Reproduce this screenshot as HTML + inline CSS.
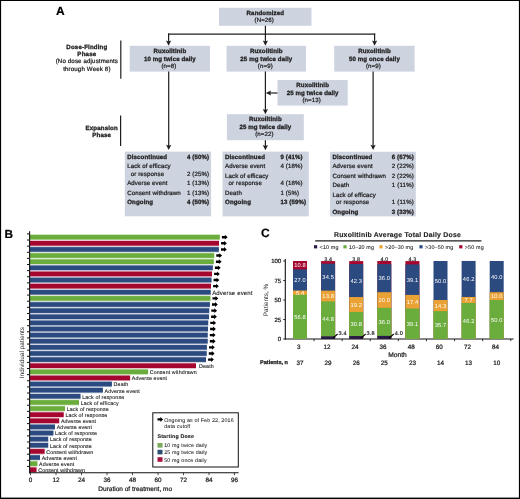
<!DOCTYPE html>
<html><head><meta charset="utf-8"><style>
html,body{margin:0;padding:0;background:#fff;}
body{width:520px;height:499px;overflow:hidden;}
svg{display:block;font-family:"Liberation Sans", sans-serif;will-change:transform;text-rendering:geometricPrecision;}
</style></head><body>
<svg width="520" height="499" viewBox="0 0 520 499">
<g>
<rect x="0" y="0" width="520" height="499" fill="#fff"/>
<text x="55.90" y="15.00" font-size="12.0" font-weight="bold" text-anchor="start" fill="#000" stroke="#000" stroke-width="0.2" >A</text>
<rect x="219.00" y="7.80" width="92.50" height="18.00" fill="#cdd3df" />
<text x="265.30" y="15.10" font-size="6.111" font-weight="bold" text-anchor="middle" fill="#1f1f1f" stroke="#1f1f1f" stroke-width="0.3" textLength="37.45" lengthAdjust="spacing" >Randomized</text>
<text x="264.20" y="22.30" font-size="6.111" text-anchor="middle" fill="#1f1f1f" stroke="#1f1f1f" stroke-width="0.24" textLength="19.43" lengthAdjust="spacing" >(N=26)</text>
<line x1="265.40" y1="25.80" x2="265.40" y2="41.80" stroke="#1e1e1e" stroke-width="1.2"/>
<line x1="168.00" y1="34.10" x2="375.20" y2="34.10" stroke="#1e1e1e" stroke-width="1.3"/>
<line x1="168.60" y1="33.50" x2="168.60" y2="41.80" stroke="#1e1e1e" stroke-width="1.2"/>
<line x1="374.60" y1="33.50" x2="374.60" y2="41.80" stroke="#1e1e1e" stroke-width="1.2"/>
<path d="M166.00,40.50 L168.60,41.50 L171.20,40.50 L168.60,45.80 Z" fill="#1e1e1e"/>
<path d="M262.80,40.50 L265.40,41.50 L268.00,40.50 L265.40,45.80 Z" fill="#1e1e1e"/>
<path d="M372.00,40.50 L374.60,41.50 L377.20,40.50 L374.60,45.80 Z" fill="#1e1e1e"/>
<rect x="129.70" y="45.80" width="80.30" height="25.80" fill="#cdd3df" />
<text x="169.85" y="52.80" font-size="6.111" font-weight="bold" text-anchor="middle" fill="#1f1f1f" stroke="#1f1f1f" stroke-width="0.3" textLength="32.55" lengthAdjust="spacing" >Ruxolitinib</text>
<text x="169.85" y="60.50" font-size="6.111" font-weight="bold" text-anchor="middle" fill="#1f1f1f" stroke="#1f1f1f" stroke-width="0.3" textLength="51.82" lengthAdjust="spacing" >10 mg twice daily</text>
<text x="168.85" y="67.80" font-size="6.111" text-anchor="middle" fill="#1f1f1f" stroke="#1f1f1f" stroke-width="0.24" textLength="14.88" lengthAdjust="spacing" >(n=8)</text>
<rect x="226.50" y="45.80" width="79.50" height="25.80" fill="#cdd3df" />
<text x="266.25" y="52.80" font-size="6.111" font-weight="bold" text-anchor="middle" fill="#1f1f1f" stroke="#1f1f1f" stroke-width="0.3" textLength="32.55" lengthAdjust="spacing" >Ruxolitinib</text>
<text x="266.25" y="60.50" font-size="6.111" font-weight="bold" text-anchor="middle" fill="#1f1f1f" stroke="#1f1f1f" stroke-width="0.3" textLength="51.82" lengthAdjust="spacing" >25 mg twice daily</text>
<text x="265.25" y="67.80" font-size="6.111" text-anchor="middle" fill="#1f1f1f" stroke="#1f1f1f" stroke-width="0.24" textLength="14.88" lengthAdjust="spacing" >(n=9)</text>
<rect x="334.20" y="45.80" width="80.40" height="25.80" fill="#cdd3df" />
<text x="374.40" y="52.80" font-size="6.111" font-weight="bold" text-anchor="middle" fill="#1f1f1f" stroke="#1f1f1f" stroke-width="0.3" textLength="32.55" lengthAdjust="spacing" >Ruxolitinib</text>
<text x="374.40" y="60.50" font-size="6.111" font-weight="bold" text-anchor="middle" fill="#1f1f1f" stroke="#1f1f1f" stroke-width="0.3" textLength="50.77" lengthAdjust="spacing" >50 mg once daily</text>
<text x="373.40" y="67.80" font-size="6.111" text-anchor="middle" fill="#1f1f1f" stroke="#1f1f1f" stroke-width="0.24" textLength="14.88" lengthAdjust="spacing" >(n=9)</text>
<rect x="277.50" y="80.00" width="70.20" height="25.60" fill="#cdd3df" />
<text x="312.60" y="87.30" font-size="6.111" font-weight="bold" text-anchor="middle" fill="#1f1f1f" stroke="#1f1f1f" stroke-width="0.3" textLength="32.55" lengthAdjust="spacing" >Ruxolitinib</text>
<text x="312.60" y="95.00" font-size="6.111" font-weight="bold" text-anchor="middle" fill="#1f1f1f" stroke="#1f1f1f" stroke-width="0.3" textLength="51.82" lengthAdjust="spacing" >25 mg twice daily</text>
<text x="311.60" y="102.30" font-size="6.111" text-anchor="middle" fill="#1f1f1f" stroke="#1f1f1f" stroke-width="0.24" textLength="18.39" lengthAdjust="spacing" >(n=13)</text>
<rect x="226.90" y="114.20" width="76.90" height="26.00" fill="#cdd3df" />
<text x="265.35" y="121.20" font-size="6.111" font-weight="bold" text-anchor="middle" fill="#1f1f1f" stroke="#1f1f1f" stroke-width="0.3" textLength="32.55" lengthAdjust="spacing" >Ruxolitinib</text>
<text x="265.35" y="128.90" font-size="6.111" font-weight="bold" text-anchor="middle" fill="#1f1f1f" stroke="#1f1f1f" stroke-width="0.3" textLength="51.82" lengthAdjust="spacing" >25 mg twice daily</text>
<text x="264.35" y="136.20" font-size="6.111" text-anchor="middle" fill="#1f1f1f" stroke="#1f1f1f" stroke-width="0.24" textLength="18.39" lengthAdjust="spacing" >(n=22)</text>
<line x1="168.70" y1="71.60" x2="168.70" y2="146.00" stroke="#1e1e1e" stroke-width="1.2"/>
<path d="M166.10,144.70 L168.70,145.70 L171.30,144.70 L168.70,150.00 Z" fill="#1e1e1e"/>
<line x1="265.40" y1="71.60" x2="265.40" y2="110.20" stroke="#1e1e1e" stroke-width="1.2"/>
<path d="M262.80,108.90 L265.40,109.90 L268.00,108.90 L265.40,114.20 Z" fill="#1e1e1e"/>
<line x1="373.10" y1="71.60" x2="373.10" y2="146.00" stroke="#1e1e1e" stroke-width="1.2"/>
<path d="M370.50,144.70 L373.10,145.70 L375.70,144.70 L373.10,150.00 Z" fill="#1e1e1e"/>
<line x1="277.50" y1="93.00" x2="269.50" y2="93.00" stroke="#1e1e1e" stroke-width="1.2"/>
<path d="M271.10,90.40 L270.10,93.00 L271.10,95.60 L265.80,93.00 Z" fill="#1e1e1e"/>
<line x1="265.40" y1="140.20" x2="265.40" y2="146.00" stroke="#1e1e1e" stroke-width="1.2"/>
<path d="M262.80,144.90 L265.40,145.90 L268.00,144.90 L265.40,150.20 Z" fill="#1e1e1e"/>
<line x1="120.80" y1="40.40" x2="120.80" y2="78.80" stroke="#1e1e1e" stroke-width="1.2"/>
<text x="86.80" y="48.50" font-size="6.144" font-weight="bold" text-anchor="middle" fill="#1f1f1f" stroke="#1f1f1f" stroke-width="0.3" textLength="40.88" lengthAdjust="spacing" >Dose-Finding</text>
<text x="86.80" y="55.80" font-size="6.144" font-weight="bold" text-anchor="middle" fill="#1f1f1f" stroke="#1f1f1f" stroke-width="0.3" textLength="18.86" lengthAdjust="spacing" >Phase</text>
<text x="86.80" y="63.30" font-size="6.144" text-anchor="middle" fill="#1f1f1f" stroke="#1f1f1f" stroke-width="0.24" textLength="62.25" lengthAdjust="spacing" >(No dose adjustments</text>
<text x="86.80" y="70.60" font-size="6.144" text-anchor="middle" fill="#1f1f1f" stroke="#1f1f1f" stroke-width="0.24" textLength="47.31" lengthAdjust="spacing" >through Week 8)</text>
<line x1="120.60" y1="115.40" x2="120.60" y2="146.00" stroke="#1e1e1e" stroke-width="1.2"/>
<text x="101.60" y="129.80" font-size="6.144" font-weight="bold" text-anchor="middle" fill="#1f1f1f" stroke="#1f1f1f" stroke-width="0.3" textLength="32.36" lengthAdjust="spacing" >Expansion</text>
<text x="101.60" y="136.80" font-size="6.144" font-weight="bold" text-anchor="middle" fill="#1f1f1f" stroke="#1f1f1f" stroke-width="0.3" textLength="18.86" lengthAdjust="spacing" >Phase</text>
<rect x="124.80" y="151.60" width="86.30" height="64.70" fill="#cdd3df" />
<text x="127.20" y="159.10" font-size="6.111" font-weight="bold" text-anchor="start" fill="#1f1f1f" stroke="#1f1f1f" stroke-width="0.3" textLength="39.90" lengthAdjust="spacing" >Discontinued</text>
<text x="187.00" y="159.10" font-size="6.111" font-weight="bold" text-anchor="start" fill="#1f1f1f" stroke="#1f1f1f" stroke-width="0.3" textLength="22.06" lengthAdjust="spacing" >4 (50%)</text>
<text x="127.20" y="168.40" font-size="6.111" text-anchor="start" fill="#1f1f1f" stroke="#1f1f1f" stroke-width="0.24" textLength="43.42" lengthAdjust="spacing" >Lack of efficacy</text>
<text x="130.80" y="175.90" font-size="6.111" text-anchor="start" fill="#1f1f1f" stroke="#1f1f1f" stroke-width="0.24" textLength="33.27" lengthAdjust="spacing" >or response</text>
<text x="187.00" y="175.90" font-size="6.111" text-anchor="start" fill="#1f1f1f" stroke="#1f1f1f" stroke-width="0.24" textLength="22.06" lengthAdjust="spacing" >2 (25%)</text>
<text x="127.20" y="185.30" font-size="6.111" text-anchor="start" fill="#1f1f1f" stroke="#1f1f1f" stroke-width="0.24" textLength="40.27" lengthAdjust="spacing" >Adverse event</text>
<text x="187.00" y="185.30" font-size="6.111" text-anchor="start" fill="#1f1f1f" stroke="#1f1f1f" stroke-width="0.24" textLength="22.06" lengthAdjust="spacing" >1 (13%)</text>
<text x="127.20" y="194.80" font-size="6.111" text-anchor="start" fill="#1f1f1f" stroke="#1f1f1f" stroke-width="0.24" textLength="53.58" lengthAdjust="spacing" >Consent withdrawn</text>
<text x="187.00" y="194.80" font-size="6.111" text-anchor="start" fill="#1f1f1f" stroke="#1f1f1f" stroke-width="0.24" textLength="22.06" lengthAdjust="spacing" >1 (13%)</text>
<text x="127.20" y="204.30" font-size="6.111" font-weight="bold" text-anchor="start" fill="#1f1f1f" stroke="#1f1f1f" stroke-width="0.3" textLength="25.89" lengthAdjust="spacing" >Ongoing</text>
<text x="187.00" y="204.30" font-size="6.111" font-weight="bold" text-anchor="start" fill="#1f1f1f" stroke="#1f1f1f" stroke-width="0.3" textLength="22.06" lengthAdjust="spacing" >4 (50%)</text>
<rect x="222.60" y="151.60" width="86.20" height="64.80" fill="#cdd3df" />
<text x="225.00" y="159.10" font-size="6.111" font-weight="bold" text-anchor="start" fill="#1f1f1f" stroke="#1f1f1f" stroke-width="0.3" textLength="39.90" lengthAdjust="spacing" >Discontinued</text>
<text x="280.50" y="159.10" font-size="6.111" font-weight="bold" text-anchor="start" fill="#1f1f1f" stroke="#1f1f1f" stroke-width="0.3" textLength="22.06" lengthAdjust="spacing" >9 (41%)</text>
<text x="225.00" y="168.40" font-size="6.111" text-anchor="start" fill="#1f1f1f" stroke="#1f1f1f" stroke-width="0.24" textLength="40.27" lengthAdjust="spacing" >Adverse event</text>
<text x="280.50" y="168.40" font-size="6.111" text-anchor="start" fill="#1f1f1f" stroke="#1f1f1f" stroke-width="0.24" textLength="22.06" lengthAdjust="spacing" >4 (18%)</text>
<text x="225.00" y="177.80" font-size="6.111" text-anchor="start" fill="#1f1f1f" stroke="#1f1f1f" stroke-width="0.24" textLength="43.42" lengthAdjust="spacing" >Lack of efficacy</text>
<text x="228.60" y="185.30" font-size="6.111" text-anchor="start" fill="#1f1f1f" stroke="#1f1f1f" stroke-width="0.24" textLength="33.27" lengthAdjust="spacing" >or response</text>
<text x="280.50" y="185.30" font-size="6.111" text-anchor="start" fill="#1f1f1f" stroke="#1f1f1f" stroke-width="0.24" textLength="22.06" lengthAdjust="spacing" >4 (18%)</text>
<text x="225.00" y="194.80" font-size="6.111" text-anchor="start" fill="#1f1f1f" stroke="#1f1f1f" stroke-width="0.24" textLength="16.81" lengthAdjust="spacing" >Death</text>
<text x="280.50" y="194.80" font-size="6.111" text-anchor="start" fill="#1f1f1f" stroke="#1f1f1f" stroke-width="0.24" textLength="18.56" lengthAdjust="spacing" >1 (5%)</text>
<text x="225.00" y="204.30" font-size="6.111" font-weight="bold" text-anchor="start" fill="#1f1f1f" stroke="#1f1f1f" stroke-width="0.3" textLength="25.89" lengthAdjust="spacing" >Ongoing</text>
<text x="280.50" y="204.30" font-size="6.111" font-weight="bold" text-anchor="start" fill="#1f1f1f" stroke="#1f1f1f" stroke-width="0.3" textLength="25.56" lengthAdjust="spacing" >13 (59%)</text>
<rect x="330.00" y="151.80" width="85.80" height="64.60" fill="#cdd3df" />
<text x="332.40" y="159.10" font-size="6.111" font-weight="bold" text-anchor="start" fill="#1f1f1f" stroke="#1f1f1f" stroke-width="0.3" textLength="39.90" lengthAdjust="spacing" >Discontinued</text>
<text x="391.80" y="159.10" font-size="6.111" font-weight="bold" text-anchor="start" fill="#1f1f1f" stroke="#1f1f1f" stroke-width="0.3" textLength="22.06" lengthAdjust="spacing" >6 (67%)</text>
<text x="332.40" y="168.40" font-size="6.111" text-anchor="start" fill="#1f1f1f" stroke="#1f1f1f" stroke-width="0.24" textLength="40.27" lengthAdjust="spacing" >Adverse event</text>
<text x="391.80" y="168.40" font-size="6.111" text-anchor="start" fill="#1f1f1f" stroke="#1f1f1f" stroke-width="0.24" textLength="22.06" lengthAdjust="spacing" >2 (22%)</text>
<text x="332.40" y="177.70" font-size="6.111" text-anchor="start" fill="#1f1f1f" stroke="#1f1f1f" stroke-width="0.24" textLength="53.58" lengthAdjust="spacing" >Consent withdrawn</text>
<text x="391.80" y="177.70" font-size="6.111" text-anchor="start" fill="#1f1f1f" stroke="#1f1f1f" stroke-width="0.24" textLength="22.06" lengthAdjust="spacing" >2 (22%)</text>
<text x="332.40" y="187.10" font-size="6.111" text-anchor="start" fill="#1f1f1f" stroke="#1f1f1f" stroke-width="0.24" textLength="16.81" lengthAdjust="spacing" >Death</text>
<text x="391.80" y="187.10" font-size="6.111" text-anchor="start" fill="#1f1f1f" stroke="#1f1f1f" stroke-width="0.24" textLength="22.06" lengthAdjust="spacing" >1 (11%)</text>
<text x="332.40" y="196.50" font-size="6.111" text-anchor="start" fill="#1f1f1f" stroke="#1f1f1f" stroke-width="0.24" textLength="43.42" lengthAdjust="spacing" >Lack of efficacy</text>
<text x="336.00" y="204.10" font-size="6.111" text-anchor="start" fill="#1f1f1f" stroke="#1f1f1f" stroke-width="0.24" textLength="33.27" lengthAdjust="spacing" >or response</text>
<text x="391.80" y="204.10" font-size="6.111" text-anchor="start" fill="#1f1f1f" stroke="#1f1f1f" stroke-width="0.24" textLength="22.06" lengthAdjust="spacing" >1 (11%)</text>
<text x="332.40" y="213.50" font-size="6.111" font-weight="bold" text-anchor="start" fill="#1f1f1f" stroke="#1f1f1f" stroke-width="0.3" textLength="25.89" lengthAdjust="spacing" >Ongoing</text>
<text x="391.80" y="213.50" font-size="6.111" font-weight="bold" text-anchor="start" fill="#1f1f1f" stroke="#1f1f1f" stroke-width="0.3" textLength="22.06" lengthAdjust="spacing" >3 (33%)</text>
<text x="4.40" y="238.30" font-size="11.8" font-weight="bold" text-anchor="start" fill="#000" stroke="#000" stroke-width="0.2" >B</text>
<rect x="30.00" y="234.10" width="189.80" height="6.20" fill="#d5e8c8" />
<rect x="30.00" y="240.22" width="189.00" height="6.20" fill="#e6b9c5" />
<rect x="30.00" y="246.34" width="188.90" height="6.20" fill="#c4ccdb" />
<rect x="30.00" y="252.46" width="184.20" height="6.20" fill="#d5e8c8" />
<rect x="30.00" y="258.58" width="183.80" height="6.20" fill="#d5e8c8" />
<rect x="30.00" y="264.70" width="182.80" height="6.20" fill="#c4ccdb" />
<rect x="30.00" y="270.82" width="182.00" height="6.20" fill="#e6b9c5" />
<rect x="30.00" y="276.94" width="181.50" height="6.20" fill="#c4ccdb" />
<rect x="30.00" y="283.06" width="181.00" height="6.20" fill="#e6b9c5" />
<rect x="30.00" y="289.18" width="180.70" height="6.20" fill="#c4ccdb" />
<rect x="30.00" y="295.30" width="180.40" height="6.20" fill="#d5e8c8" />
<rect x="30.00" y="301.42" width="179.90" height="6.20" fill="#c4ccdb" />
<rect x="30.00" y="307.54" width="179.20" height="6.20" fill="#c4ccdb" />
<rect x="30.00" y="313.66" width="179.00" height="6.20" fill="#c4ccdb" />
<rect x="30.00" y="319.78" width="178.20" height="6.20" fill="#c4ccdb" />
<rect x="30.00" y="325.90" width="178.00" height="6.20" fill="#c4ccdb" />
<rect x="30.00" y="332.02" width="177.70" height="6.20" fill="#c4ccdb" />
<rect x="30.00" y="338.14" width="177.70" height="6.20" fill="#c4ccdb" />
<rect x="30.00" y="344.26" width="176.90" height="6.20" fill="#c4ccdb" />
<rect x="30.00" y="350.38" width="176.70" height="6.20" fill="#c4ccdb" />
<rect x="30.00" y="356.50" width="176.00" height="6.20" fill="#c4ccdb" />
<rect x="30.00" y="362.62" width="166.00" height="6.20" fill="#e6b9c5" />
<rect x="30.00" y="368.74" width="118.10" height="6.20" fill="#d5e8c8" />
<rect x="30.00" y="374.86" width="100.10" height="6.20" fill="#e6b9c5" />
<rect x="30.00" y="380.98" width="81.90" height="6.20" fill="#c4ccdb" />
<rect x="30.00" y="387.10" width="72.90" height="6.20" fill="#c4ccdb" />
<rect x="30.00" y="393.22" width="50.50" height="6.20" fill="#c4ccdb" />
<rect x="30.00" y="399.34" width="49.00" height="6.20" fill="#d5e8c8" />
<rect x="30.00" y="405.46" width="35.00" height="6.20" fill="#d5e8c8" />
<rect x="30.00" y="411.58" width="33.70" height="6.20" fill="#e6b9c5" />
<rect x="30.00" y="417.70" width="29.20" height="6.20" fill="#e6b9c5" />
<rect x="30.00" y="423.82" width="25.00" height="6.20" fill="#c4ccdb" />
<rect x="30.00" y="429.94" width="23.40" height="6.20" fill="#c4ccdb" />
<rect x="30.00" y="436.06" width="18.20" height="6.20" fill="#c4ccdb" />
<rect x="30.00" y="442.18" width="18.20" height="6.20" fill="#c4ccdb" />
<rect x="30.00" y="448.30" width="14.60" height="6.20" fill="#e6b9c5" />
<rect x="30.00" y="454.42" width="10.00" height="6.20" fill="#c4ccdb" />
<rect x="30.00" y="460.54" width="7.40" height="6.20" fill="#d5e8c8" />
<rect x="30.00" y="466.66" width="6.50" height="6.20" fill="#e6b9c5" />
<rect x="30.00" y="234.90" width="189.80" height="4.60" fill="#6aad3c" />
<path d="M221.90,236.00 H224.90 V234.80 L227.70,237.20 L224.90,239.60 V238.40 H221.90 Z" fill="#000"/>
<rect x="30.00" y="241.02" width="189.00" height="4.60" fill="#a5062f" />
<path d="M221.10,242.12 H224.10 V240.92 L226.90,243.32 L224.10,245.72 V244.52 H221.10 Z" fill="#000"/>
<rect x="30.00" y="247.14" width="188.90" height="4.60" fill="#2b4a80" />
<path d="M221.00,248.24 H224.00 V247.04 L226.80,249.44 L224.00,251.84 V250.64 H221.00 Z" fill="#000"/>
<rect x="30.00" y="253.26" width="184.20" height="4.60" fill="#6aad3c" />
<path d="M216.30,254.36 H219.30 V253.16 L222.10,255.56 L219.30,257.96 V256.76 H216.30 Z" fill="#000"/>
<rect x="30.00" y="259.38" width="183.80" height="4.60" fill="#6aad3c" />
<path d="M215.90,260.48 H218.90 V259.28 L221.70,261.68 L218.90,264.08 V262.88 H215.90 Z" fill="#000"/>
<rect x="30.00" y="265.50" width="182.80" height="4.60" fill="#2b4a80" />
<path d="M214.90,266.60 H217.90 V265.40 L220.70,267.80 L217.90,270.20 V269.00 H214.90 Z" fill="#000"/>
<rect x="30.00" y="271.62" width="182.00" height="4.60" fill="#a5062f" />
<path d="M214.10,272.72 H217.10 V271.52 L219.90,273.92 L217.10,276.32 V275.12 H214.10 Z" fill="#000"/>
<rect x="30.00" y="277.74" width="181.50" height="4.60" fill="#2b4a80" />
<path d="M213.60,278.84 H216.60 V277.64 L219.40,280.04 L216.60,282.44 V281.24 H213.60 Z" fill="#000"/>
<rect x="30.00" y="283.86" width="181.00" height="4.60" fill="#a5062f" />
<path d="M213.10,284.96 H216.10 V283.76 L218.90,286.16 L216.10,288.56 V287.36 H213.10 Z" fill="#000"/>
<rect x="30.00" y="289.98" width="180.70" height="4.60" fill="#2b4a80" />
<text x="212.20" y="294.58" font-size="6.048" text-anchor="start" fill="#1f1f1f" stroke="#1f1f1f" stroke-width="0.12" textLength="40.27" lengthAdjust="spacing" >Adverse event</text>
<rect x="30.00" y="296.10" width="180.40" height="4.60" fill="#6aad3c" />
<path d="M212.50,297.20 H215.50 V296.00 L218.30,298.40 L215.50,300.80 V299.60 H212.50 Z" fill="#000"/>
<rect x="30.00" y="302.22" width="179.90" height="4.60" fill="#2b4a80" />
<path d="M212.00,303.32 H215.00 V302.12 L217.80,304.52 L215.00,306.92 V305.72 H212.00 Z" fill="#000"/>
<rect x="30.00" y="308.34" width="179.20" height="4.60" fill="#2b4a80" />
<path d="M211.30,309.44 H214.30 V308.24 L217.10,310.64 L214.30,313.04 V311.84 H211.30 Z" fill="#000"/>
<rect x="30.00" y="314.46" width="179.00" height="4.60" fill="#2b4a80" />
<path d="M211.10,315.56 H214.10 V314.36 L216.90,316.76 L214.10,319.16 V317.96 H211.10 Z" fill="#000"/>
<rect x="30.00" y="320.58" width="178.20" height="4.60" fill="#2b4a80" />
<path d="M210.30,321.68 H213.30 V320.48 L216.10,322.88 L213.30,325.28 V324.08 H210.30 Z" fill="#000"/>
<rect x="30.00" y="326.70" width="178.00" height="4.60" fill="#2b4a80" />
<path d="M210.10,327.80 H213.10 V326.60 L215.90,329.00 L213.10,331.40 V330.20 H210.10 Z" fill="#000"/>
<rect x="30.00" y="332.82" width="177.70" height="4.60" fill="#2b4a80" />
<path d="M209.80,333.92 H212.80 V332.72 L215.60,335.12 L212.80,337.52 V336.32 H209.80 Z" fill="#000"/>
<rect x="30.00" y="338.94" width="177.70" height="4.60" fill="#2b4a80" />
<path d="M209.80,340.04 H212.80 V338.84 L215.60,341.24 L212.80,343.64 V342.44 H209.80 Z" fill="#000"/>
<rect x="30.00" y="345.06" width="176.90" height="4.60" fill="#2b4a80" />
<path d="M209.00,346.16 H212.00 V344.96 L214.80,347.36 L212.00,349.76 V348.56 H209.00 Z" fill="#000"/>
<rect x="30.00" y="351.18" width="176.70" height="4.60" fill="#2b4a80" />
<path d="M208.80,352.28 H211.80 V351.08 L214.60,353.48 L211.80,355.88 V354.68 H208.80 Z" fill="#000"/>
<rect x="30.00" y="357.30" width="176.00" height="4.60" fill="#2b4a80" />
<path d="M208.10,358.40 H211.10 V357.20 L213.90,359.60 L211.10,362.00 V360.80 H208.10 Z" fill="#000"/>
<rect x="30.00" y="363.42" width="166.00" height="4.60" fill="#a5062f" />
<text x="199.00" y="368.02" font-size="5.28" text-anchor="start" fill="#1f1f1f" stroke="#1f1f1f" stroke-width="0.12" textLength="14.68" lengthAdjust="spacing" >Death</text>
<rect x="30.00" y="369.54" width="118.10" height="4.60" fill="#6aad3c" />
<text x="149.80" y="374.14" font-size="5.28" text-anchor="start" fill="#1f1f1f" stroke="#1f1f1f" stroke-width="0.12" textLength="46.77" lengthAdjust="spacing" >Consent withdrawn</text>
<rect x="30.00" y="375.66" width="100.10" height="4.60" fill="#a5062f" />
<text x="131.80" y="380.26" font-size="5.28" text-anchor="start" fill="#1f1f1f" stroke="#1f1f1f" stroke-width="0.12" textLength="35.16" lengthAdjust="spacing" >Adverse event</text>
<rect x="30.00" y="381.78" width="81.90" height="4.60" fill="#2b4a80" />
<text x="113.60" y="386.38" font-size="5.28" text-anchor="start" fill="#1f1f1f" stroke="#1f1f1f" stroke-width="0.12" textLength="14.68" lengthAdjust="spacing" >Death</text>
<rect x="30.00" y="387.90" width="72.90" height="4.60" fill="#2b4a80" />
<text x="104.60" y="392.50" font-size="5.28" text-anchor="start" fill="#1f1f1f" stroke="#1f1f1f" stroke-width="0.12" textLength="35.16" lengthAdjust="spacing" >Adverse event</text>
<rect x="30.00" y="394.02" width="50.50" height="4.60" fill="#2b4a80" />
<text x="82.20" y="398.62" font-size="5.28" text-anchor="start" fill="#1f1f1f" stroke="#1f1f1f" stroke-width="0.12" textLength="41.89" lengthAdjust="spacing" >Lack of response</text>
<rect x="30.00" y="400.14" width="49.00" height="4.60" fill="#6aad3c" />
<text x="80.70" y="404.74" font-size="5.28" text-anchor="start" fill="#1f1f1f" stroke="#1f1f1f" stroke-width="0.12" textLength="37.91" lengthAdjust="spacing" >Lack of efficacy</text>
<rect x="30.00" y="406.26" width="35.00" height="4.60" fill="#6aad3c" />
<text x="66.70" y="410.86" font-size="5.28" text-anchor="start" fill="#1f1f1f" stroke="#1f1f1f" stroke-width="0.12" textLength="41.89" lengthAdjust="spacing" >Lack of response</text>
<rect x="30.00" y="412.38" width="33.70" height="4.60" fill="#a5062f" />
<text x="65.40" y="416.98" font-size="5.28" text-anchor="start" fill="#1f1f1f" stroke="#1f1f1f" stroke-width="0.12" textLength="41.89" lengthAdjust="spacing" >Lack of response</text>
<rect x="30.00" y="418.50" width="29.20" height="4.60" fill="#a5062f" />
<text x="60.90" y="423.10" font-size="5.28" text-anchor="start" fill="#1f1f1f" stroke="#1f1f1f" stroke-width="0.12" textLength="35.16" lengthAdjust="spacing" >Adverse event</text>
<rect x="30.00" y="424.62" width="25.00" height="4.60" fill="#2b4a80" />
<text x="56.70" y="429.22" font-size="5.28" text-anchor="start" fill="#1f1f1f" stroke="#1f1f1f" stroke-width="0.12" textLength="35.16" lengthAdjust="spacing" >Adverse event</text>
<rect x="30.00" y="430.74" width="23.40" height="4.60" fill="#2b4a80" />
<text x="55.10" y="435.34" font-size="5.28" text-anchor="start" fill="#1f1f1f" stroke="#1f1f1f" stroke-width="0.12" textLength="41.89" lengthAdjust="spacing" >Lack of response</text>
<rect x="30.00" y="436.86" width="18.20" height="4.60" fill="#2b4a80" />
<text x="49.90" y="441.46" font-size="5.28" text-anchor="start" fill="#1f1f1f" stroke="#1f1f1f" stroke-width="0.12" textLength="41.89" lengthAdjust="spacing" >Lack of response</text>
<rect x="30.00" y="442.98" width="18.20" height="4.60" fill="#2b4a80" />
<text x="49.90" y="447.58" font-size="5.28" text-anchor="start" fill="#1f1f1f" stroke="#1f1f1f" stroke-width="0.12" textLength="41.89" lengthAdjust="spacing" >Lack of response</text>
<rect x="30.00" y="449.10" width="14.60" height="4.60" fill="#a5062f" />
<text x="46.30" y="453.70" font-size="5.28" text-anchor="start" fill="#1f1f1f" stroke="#1f1f1f" stroke-width="0.12" textLength="46.77" lengthAdjust="spacing" >Consent withdrawn</text>
<rect x="30.00" y="455.22" width="10.00" height="4.60" fill="#2b4a80" />
<text x="41.70" y="459.82" font-size="5.28" text-anchor="start" fill="#1f1f1f" stroke="#1f1f1f" stroke-width="0.12" textLength="35.16" lengthAdjust="spacing" >Adverse event</text>
<rect x="30.00" y="461.34" width="7.40" height="4.60" fill="#6aad3c" />
<text x="39.10" y="465.94" font-size="5.28" text-anchor="start" fill="#1f1f1f" stroke="#1f1f1f" stroke-width="0.12" textLength="35.16" lengthAdjust="spacing" >Adverse event</text>
<rect x="30.00" y="467.46" width="6.50" height="4.60" fill="#a5062f" />
<text x="38.20" y="472.06" font-size="5.28" text-anchor="start" fill="#1f1f1f" stroke="#1f1f1f" stroke-width="0.12" textLength="46.77" lengthAdjust="spacing" >Consent withdrawn</text>
<line x1="27.00" y1="233.90" x2="29.80" y2="233.90" stroke="#111" stroke-width="1.0"/>
<line x1="27.00" y1="240.02" x2="29.80" y2="240.02" stroke="#111" stroke-width="1.0"/>
<line x1="27.00" y1="246.14" x2="29.80" y2="246.14" stroke="#111" stroke-width="1.0"/>
<line x1="27.00" y1="252.26" x2="29.80" y2="252.26" stroke="#111" stroke-width="1.0"/>
<line x1="27.00" y1="258.38" x2="29.80" y2="258.38" stroke="#111" stroke-width="1.0"/>
<line x1="27.00" y1="264.50" x2="29.80" y2="264.50" stroke="#111" stroke-width="1.0"/>
<line x1="27.00" y1="270.62" x2="29.80" y2="270.62" stroke="#111" stroke-width="1.0"/>
<line x1="27.00" y1="276.74" x2="29.80" y2="276.74" stroke="#111" stroke-width="1.0"/>
<line x1="27.00" y1="282.86" x2="29.80" y2="282.86" stroke="#111" stroke-width="1.0"/>
<line x1="27.00" y1="288.98" x2="29.80" y2="288.98" stroke="#111" stroke-width="1.0"/>
<line x1="27.00" y1="295.10" x2="29.80" y2="295.10" stroke="#111" stroke-width="1.0"/>
<line x1="27.00" y1="301.22" x2="29.80" y2="301.22" stroke="#111" stroke-width="1.0"/>
<line x1="27.00" y1="307.34" x2="29.80" y2="307.34" stroke="#111" stroke-width="1.0"/>
<line x1="27.00" y1="313.46" x2="29.80" y2="313.46" stroke="#111" stroke-width="1.0"/>
<line x1="27.00" y1="319.58" x2="29.80" y2="319.58" stroke="#111" stroke-width="1.0"/>
<line x1="27.00" y1="325.70" x2="29.80" y2="325.70" stroke="#111" stroke-width="1.0"/>
<line x1="27.00" y1="331.82" x2="29.80" y2="331.82" stroke="#111" stroke-width="1.0"/>
<line x1="27.00" y1="337.94" x2="29.80" y2="337.94" stroke="#111" stroke-width="1.0"/>
<line x1="27.00" y1="344.06" x2="29.80" y2="344.06" stroke="#111" stroke-width="1.0"/>
<line x1="27.00" y1="350.18" x2="29.80" y2="350.18" stroke="#111" stroke-width="1.0"/>
<line x1="27.00" y1="356.30" x2="29.80" y2="356.30" stroke="#111" stroke-width="1.0"/>
<line x1="27.00" y1="362.42" x2="29.80" y2="362.42" stroke="#111" stroke-width="1.0"/>
<line x1="27.00" y1="368.54" x2="29.80" y2="368.54" stroke="#111" stroke-width="1.0"/>
<line x1="27.00" y1="374.66" x2="29.80" y2="374.66" stroke="#111" stroke-width="1.0"/>
<line x1="27.00" y1="380.78" x2="29.80" y2="380.78" stroke="#111" stroke-width="1.0"/>
<line x1="27.00" y1="386.90" x2="29.80" y2="386.90" stroke="#111" stroke-width="1.0"/>
<line x1="27.00" y1="393.02" x2="29.80" y2="393.02" stroke="#111" stroke-width="1.0"/>
<line x1="27.00" y1="399.14" x2="29.80" y2="399.14" stroke="#111" stroke-width="1.0"/>
<line x1="27.00" y1="405.26" x2="29.80" y2="405.26" stroke="#111" stroke-width="1.0"/>
<line x1="27.00" y1="411.38" x2="29.80" y2="411.38" stroke="#111" stroke-width="1.0"/>
<line x1="27.00" y1="417.50" x2="29.80" y2="417.50" stroke="#111" stroke-width="1.0"/>
<line x1="27.00" y1="423.62" x2="29.80" y2="423.62" stroke="#111" stroke-width="1.0"/>
<line x1="27.00" y1="429.74" x2="29.80" y2="429.74" stroke="#111" stroke-width="1.0"/>
<line x1="27.00" y1="435.86" x2="29.80" y2="435.86" stroke="#111" stroke-width="1.0"/>
<line x1="27.00" y1="441.98" x2="29.80" y2="441.98" stroke="#111" stroke-width="1.0"/>
<line x1="27.00" y1="448.10" x2="29.80" y2="448.10" stroke="#111" stroke-width="1.0"/>
<line x1="27.00" y1="454.22" x2="29.80" y2="454.22" stroke="#111" stroke-width="1.0"/>
<line x1="27.00" y1="460.34" x2="29.80" y2="460.34" stroke="#111" stroke-width="1.0"/>
<line x1="27.00" y1="466.46" x2="29.80" y2="466.46" stroke="#111" stroke-width="1.0"/>
<line x1="29.60" y1="231.20" x2="29.60" y2="473.20" stroke="#111" stroke-width="1.1"/>
<line x1="29.10" y1="472.70" x2="238.60" y2="472.70" stroke="#111" stroke-width="1.1"/>
<line x1="30.50" y1="472.70" x2="30.50" y2="475.20" stroke="#1e1e1e" stroke-width="0.8"/>
<text x="30.50" y="482.00" font-size="6.3" text-anchor="middle" fill="#1f1f1f" stroke="#1f1f1f" stroke-width="0.24" >0</text>
<line x1="56.00" y1="472.70" x2="56.00" y2="475.20" stroke="#1e1e1e" stroke-width="0.8"/>
<text x="56.00" y="482.00" font-size="6.3" text-anchor="middle" fill="#1f1f1f" stroke="#1f1f1f" stroke-width="0.24" >12</text>
<line x1="81.50" y1="472.70" x2="81.50" y2="475.20" stroke="#1e1e1e" stroke-width="0.8"/>
<text x="81.50" y="482.00" font-size="6.3" text-anchor="middle" fill="#1f1f1f" stroke="#1f1f1f" stroke-width="0.24" >24</text>
<line x1="107.00" y1="472.70" x2="107.00" y2="475.20" stroke="#1e1e1e" stroke-width="0.8"/>
<text x="107.00" y="482.00" font-size="6.3" text-anchor="middle" fill="#1f1f1f" stroke="#1f1f1f" stroke-width="0.24" >36</text>
<line x1="132.50" y1="472.70" x2="132.50" y2="475.20" stroke="#1e1e1e" stroke-width="0.8"/>
<text x="132.50" y="482.00" font-size="6.3" text-anchor="middle" fill="#1f1f1f" stroke="#1f1f1f" stroke-width="0.24" >48</text>
<line x1="158.00" y1="472.70" x2="158.00" y2="475.20" stroke="#1e1e1e" stroke-width="0.8"/>
<text x="158.00" y="482.00" font-size="6.3" text-anchor="middle" fill="#1f1f1f" stroke="#1f1f1f" stroke-width="0.24" >60</text>
<line x1="183.50" y1="472.70" x2="183.50" y2="475.20" stroke="#1e1e1e" stroke-width="0.8"/>
<text x="183.50" y="482.00" font-size="6.3" text-anchor="middle" fill="#1f1f1f" stroke="#1f1f1f" stroke-width="0.24" >72</text>
<line x1="209.00" y1="472.70" x2="209.00" y2="475.20" stroke="#1e1e1e" stroke-width="0.8"/>
<text x="209.00" y="482.00" font-size="6.3" text-anchor="middle" fill="#1f1f1f" stroke="#1f1f1f" stroke-width="0.24" >84</text>
<line x1="234.50" y1="472.70" x2="234.50" y2="475.20" stroke="#1e1e1e" stroke-width="0.8"/>
<text x="234.50" y="482.00" font-size="6.3" text-anchor="middle" fill="#1f1f1f" stroke="#1f1f1f" stroke-width="0.24" >96</text>
<text x="135.20" y="490.70" font-size="6.5" text-anchor="middle" fill="#1f1f1f" stroke="#1f1f1f" stroke-width="0.24" >Duration of treatment, mo</text>
<text transform="translate(24,352.6) rotate(-90)" x="0" y="0" font-size="6.4" text-anchor="middle" fill="#1f1f1f">Individual patients</text>
<rect x="152.8" y="412.8" width="85.5" height="54.2" fill="#fff" stroke="#111" stroke-width="1"/>
<path d="M157.50,418.25 H160.40 V416.90 L163.10,419.40 L160.40,421.90 V420.55 H157.50 Z" fill="#000"/>
<text x="164.20" y="421.60" font-size="5.32" text-anchor="start" fill="#1f1f1f" stroke="#1f1f1f" stroke-width="0.06" textLength="69.43" lengthAdjust="spacing" >Ongoing as of Feb 22, 2016</text>
<text x="164.20" y="428.30" font-size="5.32" text-anchor="start" fill="#1f1f1f" stroke="#1f1f1f" stroke-width="0.06" textLength="26.15" lengthAdjust="spacing" >data cutoff</text>
<text x="157.50" y="437.90" font-size="5.32" font-weight="bold" text-anchor="start" fill="#1f1f1f" stroke="#1f1f1f" stroke-width="0.12" textLength="36.41" lengthAdjust="spacing" >Starting Dose</text>
<rect x="157.50" y="443.00" width="5.00" height="4.60" fill="#78aa58" />
<text x="164.20" y="447.40" font-size="5.32" text-anchor="start" fill="#1f1f1f" stroke="#1f1f1f" stroke-width="0.06" textLength="42.95" lengthAdjust="spacing" >10 mg twice daily</text>
<rect x="157.50" y="449.80" width="5.00" height="4.60" fill="#2c4d70" />
<text x="164.20" y="454.20" font-size="5.32" text-anchor="start" fill="#1f1f1f" stroke="#1f1f1f" stroke-width="0.06" textLength="42.95" lengthAdjust="spacing" >25 mg twice daily</text>
<rect x="157.50" y="457.20" width="5.00" height="4.60" fill="#a2123d" />
<text x="164.20" y="461.60" font-size="5.32" text-anchor="start" fill="#1f1f1f" stroke="#1f1f1f" stroke-width="0.06" textLength="42.34" lengthAdjust="spacing" >50 mg once daily</text>
<text x="261.00" y="237.20" font-size="12.0" font-weight="bold" text-anchor="start" fill="#000" stroke="#000" stroke-width="0.2" >C</text>
<text x="397.40" y="237.10" font-size="6.906" font-weight="bold" text-anchor="middle" fill="#1f1f1f" stroke="#1f1f1f" stroke-width="0.15" textLength="126.85" lengthAdjust="spacing" >Ruxolitinib Average Total Daily Dose</text>
<line x1="315.20" y1="240.90" x2="481.40" y2="240.90" stroke="#1e1e1e" stroke-width="1.2"/>
<rect x="314.00" y="245.20" width="3.20" height="3.20" fill="#2b1a47" />
<text x="319.60" y="249.20" font-size="5.376" text-anchor="start" fill="#1f1f1f" stroke="#1f1f1f" stroke-width="0.08" textLength="18.83" lengthAdjust="spacing" >&lt;10 mg</text>
<rect x="343.40" y="245.20" width="3.20" height="3.20" fill="#6aad3c" />
<text x="349.00" y="249.20" font-size="5.376" text-anchor="start" fill="#1f1f1f" stroke="#1f1f1f" stroke-width="0.08" textLength="24.91" lengthAdjust="spacing" >10–20 mg</text>
<rect x="379.40" y="245.20" width="3.20" height="3.20" fill="#e9a233" />
<text x="385.00" y="249.20" font-size="5.376" text-anchor="start" fill="#1f1f1f" stroke="#1f1f1f" stroke-width="0.08" textLength="28.18" lengthAdjust="spacing" >&gt;20–30 mg</text>
<rect x="419.40" y="245.20" width="3.20" height="3.20" fill="#2b4a80" />
<text x="425.00" y="249.20" font-size="5.376" text-anchor="start" fill="#1f1f1f" stroke="#1f1f1f" stroke-width="0.08" textLength="28.18" lengthAdjust="spacing" >&gt;30–50 mg</text>
<rect x="459.20" y="245.20" width="3.20" height="3.20" fill="#a5062f" />
<text x="464.80" y="249.20" font-size="5.376" text-anchor="start" fill="#1f1f1f" stroke="#1f1f1f" stroke-width="0.08" textLength="18.83" lengthAdjust="spacing" >&gt;50 mg</text>
<line x1="285.30" y1="259.00" x2="285.30" y2="339.60" stroke="#111" stroke-width="1.1"/>
<line x1="284.80" y1="339.00" x2="513.60" y2="339.00" stroke="#111" stroke-width="1.2"/>
<line x1="283.20" y1="339.00" x2="285.30" y2="339.00" stroke="#1e1e1e" stroke-width="0.9"/>
<text x="281.20" y="341.10" font-size="6.0" text-anchor="end" fill="#1f1f1f" stroke="#1f1f1f" stroke-width="0.24" >0</text>
<line x1="283.20" y1="319.50" x2="285.30" y2="319.50" stroke="#1e1e1e" stroke-width="0.9"/>
<text x="281.20" y="321.60" font-size="6.0" text-anchor="end" fill="#1f1f1f" stroke="#1f1f1f" stroke-width="0.24" >25</text>
<line x1="283.20" y1="300.00" x2="285.30" y2="300.00" stroke="#1e1e1e" stroke-width="0.9"/>
<text x="281.20" y="302.10" font-size="6.0" text-anchor="end" fill="#1f1f1f" stroke="#1f1f1f" stroke-width="0.24" >50</text>
<line x1="283.20" y1="280.50" x2="285.30" y2="280.50" stroke="#1e1e1e" stroke-width="0.9"/>
<text x="281.20" y="282.60" font-size="6.0" text-anchor="end" fill="#1f1f1f" stroke="#1f1f1f" stroke-width="0.24" >75</text>
<line x1="283.20" y1="261.00" x2="285.30" y2="261.00" stroke="#1e1e1e" stroke-width="0.9"/>
<text x="281.20" y="263.10" font-size="6.0" text-anchor="end" fill="#1f1f1f" stroke="#1f1f1f" stroke-width="0.24" >100</text>
<text transform="translate(267.6,300) rotate(-90)" x="0" y="0" font-size="6.4" text-anchor="middle" fill="#1f1f1f">Patients, %</text>
<rect x="293.00" y="261.00" width="14.00" height="78.00" fill="#a5062f" />
<rect x="293.00" y="269.42" width="14.00" height="69.58" fill="#2b4a80" />
<rect x="293.00" y="290.48" width="14.00" height="48.52" fill="#e9a233" />
<rect x="293.00" y="294.70" width="14.00" height="44.30" fill="#6aad3c" />
<text x="300.00" y="318.95" font-size="5.723" text-anchor="middle" fill="#fff" textLength="11.48" lengthAdjust="spacing" >56.8</text>
<text x="300.00" y="294.69" font-size="5.723" text-anchor="middle" fill="#fff" textLength="8.20" lengthAdjust="spacing" >5.4</text>
<text x="300.00" y="282.05" font-size="5.723" text-anchor="middle" fill="#fff" textLength="11.48" lengthAdjust="spacing" >27.0</text>
<text x="300.00" y="267.31" font-size="5.723" text-anchor="middle" fill="#fff" textLength="11.48" lengthAdjust="spacing" >10.8</text>
<text x="298.80" y="348.60" font-size="6.3" text-anchor="middle" fill="#1f1f1f" stroke="#1f1f1f" stroke-width="0.24" >3</text>
<text x="300.00" y="364.60" font-size="6.3" text-anchor="middle" fill="#1f1f1f" stroke="#1f1f1f" stroke-width="0.24" >37</text>
<line x1="314.05" y1="339.00" x2="314.05" y2="341.20" stroke="#1e1e1e" stroke-width="0.9"/>
<rect x="321.10" y="261.08" width="14.00" height="77.92" fill="#a5062f" />
<rect x="321.10" y="263.73" width="14.00" height="75.27" fill="#2b4a80" />
<rect x="321.10" y="290.64" width="14.00" height="48.36" fill="#e9a233" />
<rect x="321.10" y="301.40" width="14.00" height="37.60" fill="#6aad3c" />
<rect x="321.10" y="336.35" width="14.00" height="2.65" fill="#2b1a47" />
<path d="M332.80,338.20 L337.60,334.00" stroke="#000" stroke-width="1.1" fill="none"/>
<text x="338.50" y="334.60" font-size="5.568" text-anchor="start" fill="#000" stroke="#000" stroke-width="0.1" textLength="8.06" lengthAdjust="spacing" >3.4</text>
<text x="328.10" y="320.98" font-size="5.723" text-anchor="middle" fill="#fff" textLength="11.48" lengthAdjust="spacing" >44.8</text>
<text x="328.10" y="298.12" font-size="5.723" text-anchor="middle" fill="#fff" textLength="11.48" lengthAdjust="spacing" >13.8</text>
<text x="328.10" y="279.29" font-size="5.723" text-anchor="middle" fill="#fff" textLength="11.48" lengthAdjust="spacing" >34.5</text>
<text x="328.10" y="260.60" font-size="5.376" text-anchor="middle" fill="#000" stroke="#000" stroke-width="0.1" textLength="7.78" lengthAdjust="spacing" >3.4</text>
<text x="326.90" y="348.60" font-size="6.3" text-anchor="middle" fill="#1f1f1f" stroke="#1f1f1f" stroke-width="0.24" >12</text>
<text x="328.10" y="364.60" font-size="6.3" text-anchor="middle" fill="#1f1f1f" stroke="#1f1f1f" stroke-width="0.24" >29</text>
<line x1="342.15" y1="339.00" x2="342.15" y2="341.20" stroke="#1e1e1e" stroke-width="0.9"/>
<rect x="349.20" y="261.08" width="14.00" height="77.92" fill="#a5062f" />
<rect x="349.20" y="264.04" width="14.00" height="74.96" fill="#2b4a80" />
<rect x="349.20" y="297.04" width="14.00" height="41.96" fill="#e9a233" />
<rect x="349.20" y="312.01" width="14.00" height="26.99" fill="#6aad3c" />
<rect x="349.20" y="336.04" width="14.00" height="2.96" fill="#2b1a47" />
<path d="M360.90,338.20 L365.70,334.00" stroke="#000" stroke-width="1.1" fill="none"/>
<text x="366.60" y="334.60" font-size="5.568" text-anchor="start" fill="#000" stroke="#000" stroke-width="0.1" textLength="8.06" lengthAdjust="spacing" >3.8</text>
<text x="356.20" y="326.12" font-size="5.723" text-anchor="middle" fill="#fff" textLength="11.48" lengthAdjust="spacing" >30.8</text>
<text x="356.20" y="306.62" font-size="5.723" text-anchor="middle" fill="#fff" textLength="11.48" lengthAdjust="spacing" >19.2</text>
<text x="356.20" y="282.64" font-size="5.723" text-anchor="middle" fill="#fff" textLength="11.48" lengthAdjust="spacing" >42.3</text>
<text x="356.20" y="260.60" font-size="5.376" text-anchor="middle" fill="#000" stroke="#000" stroke-width="0.1" textLength="7.78" lengthAdjust="spacing" >3.8</text>
<text x="355.00" y="348.60" font-size="6.3" text-anchor="middle" fill="#1f1f1f" stroke="#1f1f1f" stroke-width="0.24" >24</text>
<text x="356.20" y="364.60" font-size="6.3" text-anchor="middle" fill="#1f1f1f" stroke="#1f1f1f" stroke-width="0.24" >26</text>
<line x1="370.25" y1="339.00" x2="370.25" y2="341.20" stroke="#1e1e1e" stroke-width="0.9"/>
<rect x="377.30" y="261.00" width="14.00" height="78.00" fill="#a5062f" />
<rect x="377.30" y="264.12" width="14.00" height="74.88" fill="#2b4a80" />
<rect x="377.30" y="292.20" width="14.00" height="46.80" fill="#e9a233" />
<rect x="377.30" y="307.80" width="14.00" height="31.20" fill="#6aad3c" />
<rect x="377.30" y="335.88" width="14.00" height="3.12" fill="#2b1a47" />
<path d="M389.00,338.20 L393.80,334.00" stroke="#000" stroke-width="1.1" fill="none"/>
<text x="394.70" y="334.60" font-size="5.568" text-anchor="start" fill="#000" stroke="#000" stroke-width="0.1" textLength="8.06" lengthAdjust="spacing" >4.0</text>
<text x="384.30" y="323.94" font-size="5.723" text-anchor="middle" fill="#fff" textLength="11.48" lengthAdjust="spacing" >36.0</text>
<text x="384.30" y="302.10" font-size="5.723" text-anchor="middle" fill="#fff" textLength="11.48" lengthAdjust="spacing" >20.0</text>
<text x="384.30" y="280.26" font-size="5.723" text-anchor="middle" fill="#fff" textLength="11.48" lengthAdjust="spacing" >36.0</text>
<text x="384.30" y="260.60" font-size="5.376" text-anchor="middle" fill="#000" stroke="#000" stroke-width="0.1" textLength="7.78" lengthAdjust="spacing" >4.0</text>
<text x="383.10" y="348.60" font-size="6.3" text-anchor="middle" fill="#1f1f1f" stroke="#1f1f1f" stroke-width="0.24" >36</text>
<text x="384.30" y="364.60" font-size="6.3" text-anchor="middle" fill="#1f1f1f" stroke="#1f1f1f" stroke-width="0.24" >25</text>
<line x1="398.35" y1="339.00" x2="398.35" y2="341.20" stroke="#1e1e1e" stroke-width="0.9"/>
<rect x="405.40" y="261.08" width="14.00" height="77.92" fill="#a5062f" />
<rect x="405.40" y="264.43" width="14.00" height="74.57" fill="#2b4a80" />
<rect x="405.40" y="294.93" width="14.00" height="44.07" fill="#e9a233" />
<rect x="405.40" y="308.50" width="14.00" height="30.50" fill="#6aad3c" />
<text x="412.40" y="325.85" font-size="5.723" text-anchor="middle" fill="#fff" textLength="11.48" lengthAdjust="spacing" >39.1</text>
<text x="412.40" y="303.82" font-size="5.723" text-anchor="middle" fill="#fff" textLength="11.48" lengthAdjust="spacing" >17.4</text>
<text x="412.40" y="281.78" font-size="5.723" text-anchor="middle" fill="#fff" textLength="11.48" lengthAdjust="spacing" >39.1</text>
<text x="412.40" y="260.60" font-size="5.376" text-anchor="middle" fill="#000" stroke="#000" stroke-width="0.1" textLength="7.78" lengthAdjust="spacing" >4.3</text>
<text x="411.20" y="348.60" font-size="6.3" text-anchor="middle" fill="#1f1f1f" stroke="#1f1f1f" stroke-width="0.24" >48</text>
<text x="412.40" y="364.60" font-size="6.3" text-anchor="middle" fill="#1f1f1f" stroke="#1f1f1f" stroke-width="0.24" >23</text>
<line x1="426.45" y1="339.00" x2="426.45" y2="341.20" stroke="#1e1e1e" stroke-width="0.9"/>
<rect x="433.50" y="261.00" width="14.00" height="78.00" fill="#2b4a80" />
<rect x="433.50" y="300.00" width="14.00" height="39.00" fill="#e9a233" />
<rect x="433.50" y="311.15" width="14.00" height="27.85" fill="#6aad3c" />
<text x="440.50" y="327.18" font-size="5.723" text-anchor="middle" fill="#fff" textLength="11.48" lengthAdjust="spacing" >35.7</text>
<text x="440.50" y="307.68" font-size="5.723" text-anchor="middle" fill="#fff" textLength="11.48" lengthAdjust="spacing" >14.3</text>
<text x="440.50" y="282.60" font-size="5.723" text-anchor="middle" fill="#fff" textLength="11.48" lengthAdjust="spacing" >50.0</text>
<text x="439.30" y="348.60" font-size="6.3" text-anchor="middle" fill="#1f1f1f" stroke="#1f1f1f" stroke-width="0.24" >60</text>
<text x="440.50" y="364.60" font-size="6.3" text-anchor="middle" fill="#1f1f1f" stroke="#1f1f1f" stroke-width="0.24" >14</text>
<line x1="454.55" y1="339.00" x2="454.55" y2="341.20" stroke="#1e1e1e" stroke-width="0.9"/>
<rect x="461.60" y="260.92" width="14.00" height="78.08" fill="#2b4a80" />
<rect x="461.60" y="296.96" width="14.00" height="42.04" fill="#e9a233" />
<rect x="461.60" y="302.96" width="14.00" height="36.04" fill="#6aad3c" />
<text x="468.60" y="323.08" font-size="5.723" text-anchor="middle" fill="#fff" textLength="11.48" lengthAdjust="spacing" >46.2</text>
<text x="468.60" y="302.06" font-size="5.723" text-anchor="middle" fill="#fff" textLength="8.20" lengthAdjust="spacing" >7.7</text>
<text x="468.60" y="281.04" font-size="5.723" text-anchor="middle" fill="#fff" textLength="11.48" lengthAdjust="spacing" >46.2</text>
<text x="467.40" y="348.60" font-size="6.3" text-anchor="middle" fill="#1f1f1f" stroke="#1f1f1f" stroke-width="0.24" >72</text>
<text x="468.60" y="364.60" font-size="6.3" text-anchor="middle" fill="#1f1f1f" stroke="#1f1f1f" stroke-width="0.24" >13</text>
<line x1="482.65" y1="339.00" x2="482.65" y2="341.20" stroke="#1e1e1e" stroke-width="0.9"/>
<rect x="489.70" y="261.00" width="14.00" height="78.00" fill="#2b4a80" />
<rect x="489.70" y="292.20" width="14.00" height="46.80" fill="#e9a233" />
<rect x="489.70" y="300.00" width="14.00" height="39.00" fill="#6aad3c" />
<text x="496.70" y="321.60" font-size="5.723" text-anchor="middle" fill="#fff" textLength="11.48" lengthAdjust="spacing" >50.0</text>
<text x="496.70" y="298.20" font-size="5.723" text-anchor="middle" fill="#fff" textLength="11.48" lengthAdjust="spacing" >10.0</text>
<text x="496.70" y="278.70" font-size="5.723" text-anchor="middle" fill="#fff" textLength="11.48" lengthAdjust="spacing" >40.0</text>
<text x="495.50" y="348.60" font-size="6.3" text-anchor="middle" fill="#1f1f1f" stroke="#1f1f1f" stroke-width="0.24" >84</text>
<text x="496.70" y="364.60" font-size="6.3" text-anchor="middle" fill="#1f1f1f" stroke="#1f1f1f" stroke-width="0.24" >10</text>
<line x1="510.75" y1="339.00" x2="510.75" y2="341.20" stroke="#1e1e1e" stroke-width="0.9"/>
<text x="397.50" y="357.00" font-size="6.7" text-anchor="middle" fill="#1f1f1f" stroke="#1f1f1f" stroke-width="0.24" >Month</text>
<text x="260.10" y="364.40" font-size="5.5" font-weight="bold" text-anchor="start" fill="#1f1f1f" stroke="#1f1f1f" stroke-width="0.3" >Patients, n</text>
</g>
<rect x="0" y="0" width="520" height="1" fill="#000"/>
<rect x="0" y="0" width="1.1" height="499" fill="#000"/>
<rect x="518.9" y="0" width="1.1" height="499" fill="#000"/>
<rect x="0" y="497.6" width="520" height="1.4" fill="#000"/>
</svg>
</body></html>
